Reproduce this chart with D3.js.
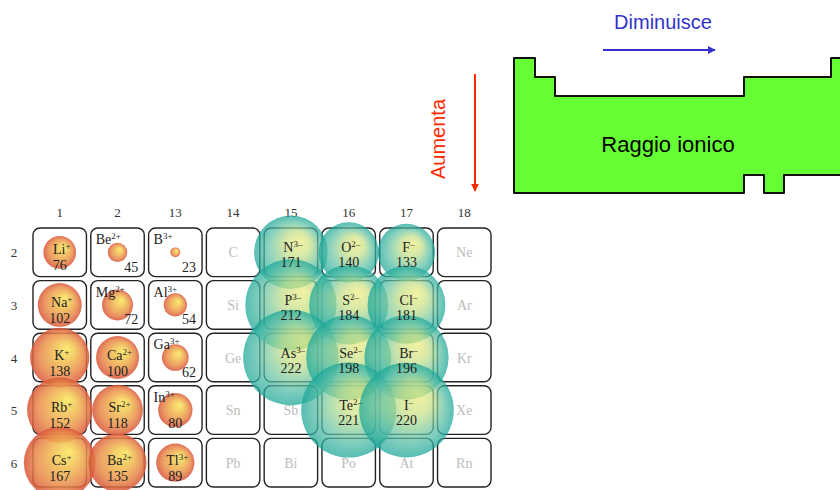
<!DOCTYPE html>
<html lang="en">
<head>
    <meta charset="UTF-8">
    <title>Raggio ionico</title>
    <script src="https://d3js.org/d3.v7.min.js"></script>
    <style>
        body, html {
            margin: 0;
            padding: 0;
            background: #fff;
            overflow: hidden;
        }
    </style>
</head>
<body>
    <div id="chart"></div>

    <script>
        // Table layout labels
        const groups = ["1", "2", "13", "14", "15", "16", "17", "18"];
        const periods = [2, 3, 4, 5, 6];

        // Cations (radius in pm)
        const cationSymbols = ["Li", "Na", "K", "Rb", "Cs", "Be", "Mg", "Ca", "Sr", "Ba", "B", "Al", "Ga", "In", "Tl"];
        const cationCharges = ["+", "+", "+", "+", "+", "2+", "2+", "2+", "2+", "2+", "3+", "3+", "3+", "3+", "3+"];
        const cationRadii = [76, 102, 138, 152, 167, 45, 72, 100, 118, 135, 23, 54, 62, 80, 89];
        const cationGroups = ["1", "1", "1", "1", "1", "2", "2", "2", "2", "2", "13", "13", "13", "13", "13"];
        const cationPeriods = [2, 3, 4, 5, 6, 2, 3, 4, 5, 6, 2, 3, 4, 5, 6];

        // Anions (radius in pm)
        const anionSymbols = ["N", "O", "F", "P", "S", "Cl", "As", "Se", "Br", "Te", "I"];
        const anionCharges = ["3\u2013", "2\u2013", "\u2013", "3\u2013", "2\u2013", "\u2013", "3\u2013", "2\u2013", "\u2013", "2\u2013", "\u2013"];
        const anionRadii = [171, 140, 133, 212, 184, 181, 222, 198, 196, 221, 220];
        const anionGroups = ["15", "16", "17", "15", "16", "17", "15", "16", "17", "16", "17"];
        const anionPeriods = [2, 2, 2, 3, 3, 3, 4, 4, 4, 5, 5];

        // Elements without ion data
        const emptySymbols = ["C", "Si", "Ge", "Sn", "Pb", "Sb", "Bi", "Po", "At", "Ne", "Ar", "Kr", "Xe", "Rn"];
        const emptyGroups = ["14", "14", "14", "14", "14", "15", "15", "16", "17", "18", "18", "18", "18", "18"];
        const emptyPeriods = [2, 3, 4, 5, 6, 5, 6, 6, 6, 2, 3, 4, 5, 6];

        const width = 840, height = 490;
        const serif = "'Liberation Serif', 'DejaVu Serif', serif";
        const sans = "'Liberation Sans', Arial, sans-serif";

        const svg = d3.select("#chart").append("svg")
            .attr("width", width)
            .attr("height", height);

        const defs = svg.append("defs");

        function addGradient(id, stops) {
            const g = defs.append("radialGradient")
                .attr("id", id)
                .attr("cx", "50%").attr("cy", "50%").attr("r", "50%")
                .attr("fx", "64%").attr("fy", "34%");
            stops.forEach(s => g.append("stop")
                .attr("offset", s[0])
                .attr("stop-color", s[1]));
        }
        addGradient("cationGrad", [[0, "#fbe85c"], [0.35, "#f2c050"], [0.75, "#e8884a"], [1, "#d8553a"]]);
        addGradient("anionGrad", [[0, "#eeec7e"], [0.35, "#c5df86"], [0.72, "#5cc0a6"], [1, "#17a597"]]);

        const x = d3.scaleBand().domain(groups).range([33, 491]).paddingInner(0.075);
        const y = d3.scaleBand().domain(periods).range([228, 487]).paddingInner(0.075);
        const r = d3.scaleLinear().domain([0, 100]).range([0, 21.5]);

        const cx = g => x(g) + x.bandwidth() / 2;
        const cy = p => y(p) + y.bandwidth() / 2;

        // Headers
        svg.selectAll(".colhead")
            .data(groups)
            .enter().append("text")
            .attr("x", d => cx(d))
            .attr("y", 217)
            .attr("text-anchor", "middle")
            .style("font-family", serif)
            .style("font-size", "13px")
            .style("fill", "#333")
            .text(d => d);

        svg.selectAll(".rowhead")
            .data(periods)
            .enter().append("text")
            .attr("x", 14)
            .attr("y", d => cy(d) + 5)
            .attr("text-anchor", "middle")
            .style("font-family", serif)
            .style("font-size", "13px")
            .style("fill", "#333")
            .text(d => d);

        // Cells
        const cells = [];
        groups.forEach(g => periods.forEach(p => cells.push({g, p})));
        svg.selectAll(".cell")
            .data(cells)
            .enter().append("rect")
            .attr("x", d => x(d.g))
            .attr("y", d => y(d.p))
            .attr("width", x.bandwidth())
            .attr("height", y.bandwidth())
            .attr("rx", 7)
            .attr("fill", "#fff")
            .attr("stroke", "#222")
            .attr("stroke-width", 1.4);

        // Empty element symbols (under bubbles)
        svg.selectAll(".empty")
            .data(emptySymbols)
            .enter().append("text")
            .attr("x", (d, i) => cx(emptyGroups[i]))
            .attr("y", (d, i) => cy(emptyPeriods[i]) + 5)
            .attr("text-anchor", "middle")
            .style("font-family", serif)
            .style("font-size", "14px")
            .style("fill", "#bdbdbd")
            .text(d => d);

        const cations = cationSymbols.map((s, i) => ({
            s, c: cationCharges[i], v: cationRadii[i], g: cationGroups[i], p: cationPeriods[i]
        }));
        const anions = anionSymbols.map((s, i) => ({
            s, c: anionCharges[i], v: anionRadii[i], g: anionGroups[i], p: anionPeriods[i]
        }));

        // Bubbles
        svg.selectAll(".cation")
            .data(cations)
            .enter().append("circle")
            .attr("cx", d => cx(d.g))
            .attr("cy", d => cy(d.p))
            .attr("r", d => r(d.v))
            .attr("fill", "url(#cationGrad)")
            .attr("fill-opacity", 0.86);

        svg.selectAll(".anion")
            .data(anions)
            .enter().append("circle")
            .attr("cx", d => cx(d.g))
            .attr("cy", d => cy(d.p))
            .attr("r", d => r(d.v))
            .attr("fill", "url(#anionGrad)")
            .attr("fill-opacity", 0.72);

        // Labels
        function ionLabel(sel, d, xPos, yPos, anchor) {
            const t = sel.append("text")
                .attr("x", xPos)
                .attr("y", yPos)
                .attr("text-anchor", anchor)
                .style("font-family", serif)
                .style("font-size", "14px")
                .style("fill", "#222");
            t.append("tspan").text(d.s);
            t.append("tspan")
                .attr("dy", -5)
                .style("font-size", "9px")
                .text(d.c);
        }

        const labels = svg.append("g");
        cations.forEach(d => {
            const cornerSym = d.v < 85 && d.g !== "1";
            const cornerNum = d.v < 75 && d.g !== "1";
            if (cornerSym) {
                ionLabel(labels, d, x(d.g) + 5, y(d.p) + 16, "start");
            } else {
                ionLabel(labels, d, cx(d.g) + 2, cy(d.p) + 2, "middle");
            }
            labels.append("text")
                .attr("x", cornerNum ? x(d.g) + x.bandwidth() - 6 : cx(d.g))
                .attr("y", cornerNum ? y(d.p) + y.bandwidth() - 5 : cy(d.p) + 18)
                .attr("text-anchor", cornerNum ? "end" : "middle")
                .style("font-family", serif)
                .style("font-size", "14px")
                .style("fill", "#222")
                .text(d.v);
        });

        anions.forEach(d => {
            ionLabel(labels, d, cx(d.g) + 2, cy(d.p) + 0, "middle");
            labels.append("text")
                .attr("x", cx(d.g))
                .attr("y", cy(d.p) + 15)
                .attr("text-anchor", "middle")
                .style("font-family", serif)
                .style("font-size", "14px")
                .style("fill", "#222")
                .text(d.v);
        });

        // Trend diagram
        const shape = [[514, 58], [535, 58], [535, 77], [555, 77], [555, 96], [744, 96], [744, 77],
            [831, 77], [831, 58], [852, 58], [852, 175], [784, 175], [784, 193], [764, 193],
            [764, 175], [744, 175], [744, 193], [514, 193]];
        svg.append("path")
            .attr("d", d3.line()(shape) + "Z")
            .attr("fill", "#66ff33")
            .attr("stroke", "#111")
            .attr("stroke-width", 2)
            .attr("stroke-linejoin", "round");

        svg.append("text")
            .attr("x", 668)
            .attr("y", 152)
            .attr("text-anchor", "middle")
            .style("font-family", sans)
            .style("font-size", "22px")
            .style("fill", "#000")
            .text("Raggio ionico");

        defs.append("marker")
            .attr("id", "arrowBlue")
            .attr("viewBox", "0 0 10 10").attr("refX", 9).attr("refY", 5)
            .attr("markerWidth", 4).attr("markerHeight", 4).attr("orient", "auto")
            .append("path").attr("d", "M0,0L10,5L0,10Z").attr("fill", "#3333cc");
        defs.append("marker")
            .attr("id", "arrowRed")
            .attr("viewBox", "0 0 10 10").attr("refX", 9).attr("refY", 5)
            .attr("markerWidth", 4).attr("markerHeight", 4).attr("orient", "auto")
            .append("path").attr("d", "M0,0L10,5L0,10Z").attr("fill", "#ff2a00");

        svg.append("text")
            .attr("x", 663)
            .attr("y", 29)
            .attr("text-anchor", "middle")
            .style("font-family", sans)
            .style("font-size", "20px")
            .style("fill", "#3333cc")
            .text("Diminuisce");
        svg.append("line")
            .attr("x1", 603).attr("y1", 50).attr("x2", 715).attr("y2", 50)
            .attr("stroke", "#3333cc").attr("stroke-width", 2)
            .attr("marker-end", "url(#arrowBlue)");

        svg.append("text")
            .attr("transform", "translate(445,139) rotate(-90)")
            .attr("text-anchor", "middle")
            .style("font-family", sans)
            .style("font-size", "20px")
            .style("fill", "#ff2a00")
            .text("Aumenta");
        svg.append("line")
            .attr("x1", 475).attr("y1", 74).attr("x2", 475).attr("y2", 191)
            .attr("stroke", "#ff2a00").attr("stroke-width", 2)
            .attr("marker-end", "url(#arrowRed)");
    </script>
</body>
</html>
